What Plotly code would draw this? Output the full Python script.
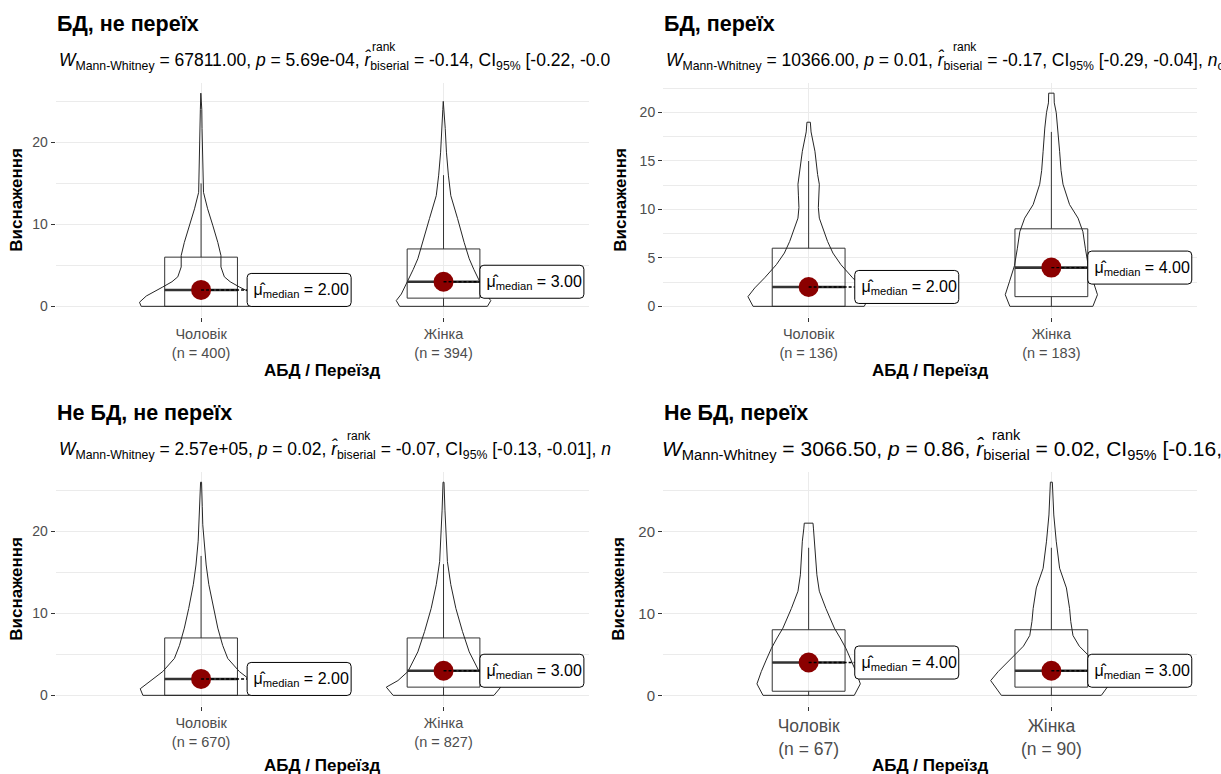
import plotly.graph_objects as go

W_FIG, H_FIG = 1221, 774

# ---------------- data ----------------
panel_titles = ["БД, не переїх", "БД, переїх", "Не БД, не переїх", "Не БД, переїх"]
groups = ["Чоловік", "Жінка"]
group_n = [[400, 394], [136, 183], [670, 827], [67, 90]]

medians = [[2, 3], [2, 4], [2, 3], [4, 3]]
q1 = [[0, 1], [0, 1], [0, 1], [0.5, 1]]
q3 = [[6, 7], [6, 8], [7, 7], [8, 8]]
whisker_lo = [[0, 0], [0, 0], [0, 0], [0, 0]]
whisker_hi = [[15, 16], [15, 18], [17, 16], [18, 18]]

# violin outlines: value levels and half-width of the density (x units)
violin_y = [
    [[0, 0.5, 1.26, 1.75, 2.36, 3.0, 3.6, 4.8, 6.2, 7.8, 9.9, 11.9, 13.9, 16.8, 19, 21.7, 24, 26],
     [0, 0.7, 1.5, 3, 4.5, 5.8, 7.8, 10.7, 13.5, 16, 18.8, 21.7, 24, 25]],
    [[0, 1.0, 1.9, 2.95, 4.3, 5.5, 6.7, 8, 9.1, 10.2, 11.4, 12.6, 13.6, 16, 18, 19],
     [0, 1.2, 2.6, 4.2, 6, 7.7, 9.1, 10.5, 12.6, 14, 16, 18.4, 20, 21, 22]],
    [[0, 0.8, 1.8, 2.9, 4.5, 6.1, 8.2, 10.6, 13.5, 15.9, 18.8, 20.8, 23, 26],
     [0, 1.0, 1.8, 2.9, 5.3, 7.8, 10.6, 13.5, 16.3, 19.6, 22.5, 26]],
    [[0, 1.4, 2.9, 4.3, 5.7, 7, 8.2, 10.6, 12.7, 14.7, 18.8, 20.3, 21],
     [0, 1.8, 2.9, 4.9, 6, 7.3, 9, 10.6, 13.1, 15.5, 18.8, 22, 24, 26]],
]
violin_w = [
    [[0.247, 0.254, 0.226, 0.199, 0.158, 0.12, 0.096, 0.082, 0.082, 0.069, 0.048, 0.027, 0.01, 0.007, 0.006, 0.004, 0.003, 0.001],
     [0.181, 0.195, 0.174, 0.148, 0.125, 0.106, 0.085, 0.058, 0.03, 0.02, 0.012, 0.007, 0.003, 0.001]],
    [[0.229, 0.25, 0.222, 0.181, 0.133, 0.1, 0.078, 0.06, 0.044, 0.04, 0.042, 0.044, 0.037, 0.026, 0.01, 0.007],
     [0.171, 0.19, 0.172, 0.152, 0.14, 0.13, 0.11, 0.075, 0.048, 0.04, 0.034, 0.027, 0.02, 0.012, 0.011]],
    [[0.24, 0.251, 0.206, 0.158, 0.11, 0.089, 0.069, 0.051, 0.032, 0.021, 0.012, 0.007, 0.005, 0.002],
     [0.208, 0.236, 0.188, 0.147, 0.106, 0.078, 0.051, 0.03, 0.016, 0.01, 0.006, 0.002]],
    [[0.188, 0.213, 0.195, 0.175, 0.154, 0.13, 0.106, 0.071, 0.044, 0.034, 0.026, 0.02, 0.018],
     [0.206, 0.25, 0.219, 0.151, 0.115, 0.089, 0.08, 0.075, 0.062, 0.034, 0.02, 0.01, 0.006, 0.004]],
]

w_stat = ["67811.00", "10366.00", "2.57e+05", "3066.50"]
p_val = ["5.69e-04", "0.01", "0.02", "0.86"]
r_rb = ["-0.14", "-0.17", "-0.07", "0.02"]
ci_txt = ["[-0.22, -0.0", "[-0.29, -0.04]", "[-0.13, -0.01]", "[-0.16, 0.20]"]
tail_txt = ["", ", <i>n</i><sub>obs</sub> = 319", ", <i>n</i>", ", <i>n</i><sub>obs</sub> = 157"]

y_ranges = [[-1.3, 27.3], [-1.1, 23.1], [-1.3, 27.3], [-1.3, 27.3]]
y_dticks = [10, 5, 10, 10]

# ---------------- layout geometry (pixels) ----------------
FONT = "Liberation Sans, Arial, sans-serif"
def fx(px):
    return px / W_FIG
def fy(py):
    return 1 - py / H_FIG

x_dom_px = [[55.6, 589], [663, 1197], [55.6, 589], [663, 1197]]
y_dom_px = [[82.5, 317], [82.5, 317], [471.5, 706], [471.5, 706]]
title_y = [24, 24, 413, 413]
sub_y = [61, 61, 450, 450]
sub_x = [57, 664, 57, 660]
sub_size = [17.5, 17.5, 17.5, 21]
rank_x = [370, 951, 345, 990]
rank_y = [47, 47, 436, 435]
rank_size = [12, 12, 12, 14.5]
tick_size = [14.5, 14.5, 14.5, 17.5]
ytick_size = [14, 14, 14, 15]
ytitle_x = [17, 621, 17, 619]
xtitle_y = [370, 370, 765, 765]
label_off = [0.19, 0.15]
BOX_HW = 0.15
LBL_W, LBL_H, LBL_R = 104, 33, 4

DARK = "#262626"
GRID = "#EBEBEB"
TICKC = "#4D4D4D"

def rounded_rect_path(w, h, r):
    hh = h / 2
    return (f"M {r},{-hh} L {w - r},{-hh} Q {w},{-hh} {w},{-hh + r} "
            f"L {w},{hh - r} Q {w},{hh} {w - r},{hh} L {r},{hh} Q 0,{hh} 0,{hh - r} "
            f"L 0,{-hh + r} Q 0,{-hh} {r},{-hh} Z")

fig = go.Figure()
layout = dict(width=W_FIG, height=H_FIG, margin=dict(l=0, r=0, t=0, b=0),
              paper_bgcolor="white", plot_bgcolor="white", showlegend=False,
              boxmode="overlay", font=dict(family=FONT, color="black"))
annotations = []
shapes = []

for k in range(4):
    sfx = "" if k == 0 else str(k + 1)
    xa, ya = "x" + sfx, "y" + sfx

    # violins
    for g in range(2):
        c = g + 1
        py = violin_y[k][g]
        pw = violin_w[k][g]
        xs = [c + w for w in pw] + [c - w for w in reversed(pw)] + [c + pw[0]]
        ys = list(py) + list(reversed(py)) + [py[0]]
        fig.add_trace(go.Scatter(x=xs, y=ys, mode="lines", xaxis=xa, yaxis=ya,
                                 line=dict(color=DARK, width=1), hoverinfo="skip"))

    # boxes
    fig.add_trace(go.Box(x=[1, 2], q1=q1[k], median=medians[k], q3=q3[k],
                         lowerfence=whisker_lo[k], upperfence=whisker_hi[k],
                         width=2 * BOX_HW, whiskerwidth=0, boxpoints=False,
                         fillcolor="rgba(0,0,0,0)", line=dict(color="#333333", width=1),
                         xaxis=xa, yaxis=ya, hoverinfo="skip"))
    # thick median bars
    mx, my = [], []
    for g in range(2):
        c = g + 1
        mx += [c - BOX_HW, c + BOX_HW, None]
        my += [medians[k][g], medians[k][g], None]
    fig.add_trace(go.Scatter(x=mx, y=my, mode="lines", xaxis=xa, yaxis=ya,
                             line=dict(color="#333333", width=2.6), hoverinfo="skip"))
    # median points
    fig.add_trace(go.Scatter(x=[1, 2], y=medians[k], mode="markers", xaxis=xa, yaxis=ya,
                             marker=dict(color="#8B0000", size=20), hoverinfo="skip"))
    # connectors
    sx, sy = [], []
    for g in range(2):
        c = g + 1
        sx += [c, c + label_off[g], None]
        sy += [medians[k][g], medians[k][g], None]
    fig.add_trace(go.Scatter(x=sx, y=sy, mode="lines", xaxis=xa, yaxis=ya,
                             line=dict(color="black", width=1.4, dash="3px,2px"), hoverinfo="skip"))
    # median labels (rounded box + text)
    for g in range(2):
        shapes.append(dict(
            type="path", xref=xa, yref=ya, xsizemode="pixel", ysizemode="pixel",
            xanchor=g + 1 + label_off[g], yanchor=medians[k][g],
            path=rounded_rect_path(LBL_W, LBL_H, LBL_R),
            fillcolor="white", line=dict(color="black", width=1), layer="above"))
        annotations.append(dict(
            x=g + 1 + label_off[g], y=medians[k][g], xref=xa, yref=ya,
            xanchor="left", yanchor="middle", showarrow=False,
            text="μ̂<sub>median</sub> = %.2f" % medians[k][g],
            font=dict(size=16, color="black", family=FONT), borderpad=5.5))

    # axes
    layout["xaxis" + sfx] = dict(
        domain=[fx(x_dom_px[k][0]), fx(x_dom_px[k][1])], anchor=ya,
        range=[0.4, 2.6], tickvals=[1, 2],
        ticktext=["%s<br>(n = %d)" % (groups[g], group_n[k][g]) for g in range(2)],
        showgrid=True, gridcolor=GRID, gridwidth=1, zeroline=False, showline=False,
        ticks="outside", ticklen=4, tickcolor="#333333", tickwidth=1,
        tickfont=dict(size=tick_size[k], color=TICKC, family=FONT), fixedrange=True)
    layout["yaxis" + sfx] = dict(
        domain=[fy(y_dom_px[k][1]), fy(y_dom_px[k][0])], anchor=xa,
        range=y_ranges[k], tick0=0, dtick=y_dticks[k],
        minor=dict(dtick=y_dticks[k] / 2, tick0=0, showgrid=True, gridcolor=GRID, gridwidth=0.8),
        showgrid=True, gridcolor=GRID, gridwidth=1, zeroline=False, showline=False,
        ticks="outside", ticklen=4, tickcolor="#333333", tickwidth=1,
        tickfont=dict(size=ytick_size[k], color=TICKC, family=FONT), fixedrange=True)

    # titles
    annotations.append(dict(
        x=fx(x_dom_px[k][0] - 1), y=fy(title_y[k]), xref="paper", yref="paper",
        xanchor="left", yanchor="middle", showarrow=False,
        text="<b>%s</b>" % panel_titles[k], font=dict(size=21.5, family=FONT, color="black")))
    sub = ("<i>W</i><sub>Mann-Whitney</sub> = %s, <i>p</i> = %s, <i>r̂</i><sub>biserial</sub> = %s, "
           "CI<sub>95%%</sub> %s%s") % (w_stat[k], p_val[k], r_rb[k], ci_txt[k], tail_txt[k])
    annotations.append(dict(
        x=fx(sub_x[k]), y=fy(sub_y[k]), xref="paper", yref="paper",
        xanchor="left", yanchor="middle", showarrow=False, align="left",
        text=sub, font=dict(size=sub_size[k], family=FONT, color="black")))
    annotations.append(dict(
        x=fx(rank_x[k]), y=fy(rank_y[k]), xref="paper", yref="paper",
        xanchor="left", yanchor="middle", showarrow=False,
        text="rank", font=dict(size=rank_size[k], family=FONT, color="black")))
    # axis titles
    annotations.append(dict(
        x=fx(ytitle_x[k]), y=fy((y_dom_px[k][0] + y_dom_px[k][1]) / 2), xref="paper", yref="paper",
        xanchor="center", yanchor="middle", showarrow=False, textangle=-90,
        text="<b>Виснаження</b>", font=dict(size=17, family=FONT, color="black")))
    annotations.append(dict(
        x=fx((x_dom_px[k][0] + x_dom_px[k][1]) / 2), y=fy(xtitle_y[k]), xref="paper", yref="paper",
        xanchor="center", yanchor="middle", showarrow=False,
        text="<b>АБД / Переїзд</b>", font=dict(size=17, family=FONT, color="black")))

layout["annotations"] = annotations
layout["shapes"] = shapes
fig.update_layout(**layout)
fig.write_html("out.html", config={"displayModeBar": False},
               post_script="document.body.style.margin='0';document.body.style.overflow='hidden';")
